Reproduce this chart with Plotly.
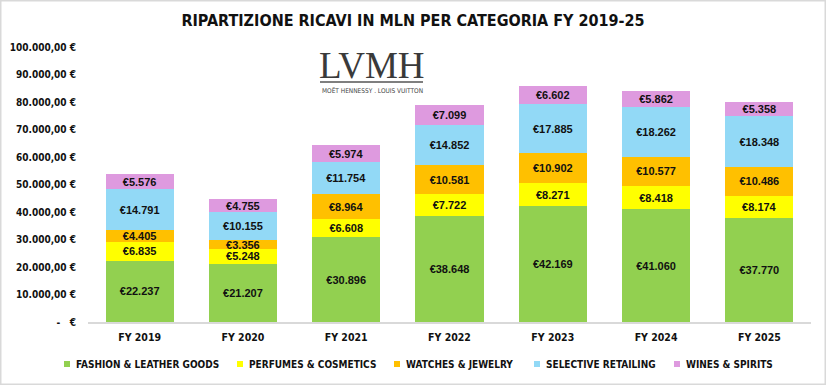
import plotly.graph_objects as go

years = ["FY 2019", "FY 2020", "FY 2021", "FY 2022", "FY 2023", "FY 2024", "FY 2025"]
fashion = [22237, 21207, 30896, 38648, 42169, 41060, 37770]
perfumes = [6835, 5248, 6608, 7722, 8271, 8418, 8174]
watches = [4405, 3356, 8964, 10581, 10902, 10577, 10486]
selective = [14791, 10155, 11754, 14852, 17885, 18262, 18348]
wines = [5576, 4755, 5974, 7099, 6602, 5862, 5358]

series_names = ["FASHION & LEATHER GOODS", "PERFUMES & COSMETICS", "WATCHES & JEWELRY",
                "SELECTIVE RETAILING", "WINES & SPIRITS"]
series_values = [fashion, perfumes, watches, selective, wines]
colors = ["#92D050", "#FFFF00", "#FFC000", "#92D9F6", "#DE9ADF"]

tick_vals = [0, 10000, 20000, 30000, 40000, 50000, 60000, 70000, 80000, 90000, 100000]
tick_text = ["-   €", "10.000,00 €", "20.000,00 €", "30.000,00 €", "40.000,00 €", "50.000,00 €",
             "60.000,00 €", "70.000,00 €", "80.000,00 €", "90.000,00 €", "100.000,00 €"]

def fmt(v):
    return "€" + f"{v:,}".replace(",", ".")

NARROW = "Liberation Sans Narrow, DejaVu Sans Condensed, sans-serif"
SANS = "Liberation Sans, Arial, sans-serif"

# layout geometry (pixels)
W, H = 826, 385
L, R, T, B = 88, 15, 47, 63
PW, PH = W - L - R, H - T - B
def px(x):
    return (x - L) / PW
def py(y):
    return (H - B - y) / PH

fig = go.Figure()
for name, vals, col in zip(series_names, series_values, colors):
    fig.add_trace(go.Bar(
        x=years, y=vals, name=name, marker=dict(color=col, line=dict(width=0)),
        text=[fmt(v) for v in vals], textposition="inside", insidetextanchor="middle",
        textangle=0, constraintext="none", showlegend=False,
        textfont=dict(family=SANS, size=11, color="#111", weight="bold"),
        hoverinfo="skip",
    ))

fig.update_layout(
    barmode="stack", bargap=0.34,
    width=W, height=H,
    margin=dict(l=L, r=R, t=T, b=B, autoexpand=False),
    paper_bgcolor="white", plot_bgcolor="white",
    title=dict(text="RIPARTIZIONE RICAVI IN MLN PER CATEGORIA FY 2019-25", x=0.5, xanchor="center",
               y=0.948, yanchor="middle",
               font=dict(family=NARROW, size=16, color="#111", weight="bold")),
    uniformtext=dict(minsize=8, mode="show"),
    xaxis=dict(showline=True, linecolor="#D9D9D9", linewidth=1.5, ticks="", automargin=False,
               ticklabelstandoff=5,
               tickfont=dict(family=NARROW, size=10.5, color="#111", weight="bold")),
    yaxis=dict(range=[0, 100000], tickvals=tick_vals, ticktext=tick_text, showgrid=False,
               zeroline=False, ticks="", ticklabelstandoff=11, automargin=False,
               tickfont=dict(family=NARROW, size=10, color="#111", weight="bold")),
)

# legend (drawn as squares + labels, single row as in the reference)
legend_sq_x = [64, 237, 394, 534, 674]
legend_y = 364
for name, col, sx in zip(series_names, colors, legend_sq_x):
    fig.add_shape(type="rect", xref="paper", yref="paper", x0=px(sx), x1=px(sx + 6),
                  y0=py(legend_y + 3), y1=py(legend_y - 3), fillcolor=col, line=dict(width=0))
    fig.add_annotation(text=name, xref="paper", yref="paper", x=px(sx + 10), y=py(legend_y),
                       xanchor="left", yanchor="middle", showarrow=False,
                       font=dict(family=NARROW, size=10, color="#111", weight="bold"))

# LVMH logo as text
fig.add_annotation(text="LVMH", xref="paper", yref="paper", x=px(372), y=py(86.5), showarrow=False,
                   borderpad=0, yanchor="bottom",
                   font=dict(family="Liberation Serif, DejaVu Serif, serif", size=37, color="#3A3A3A"))
fig.add_shape(type="line", xref="paper", yref="paper", x0=px(320), x1=px(423), y0=py(82), y1=py(82),
              line=dict(color="#555", width=1.6))
fig.add_annotation(text="MOËT HENNESSY . LOUIS VUITTON", xref="paper", yref="paper", x=px(372), y=py(90.8),
                   showarrow=False, yanchor="middle", borderpad=0,
                   font=dict(family=NARROW, size=6.5, color="#444"))

# outer frame
fig.add_shape(type="rect", xref="paper", yref="paper", x0=px(0.5), x1=px(W - 0.5), y0=py(H - 0.5), y1=py(0.5),
              line=dict(color="#D9D9D9", width=2))

fig.write_html("out.html", config={"displayModeBar": False},
               post_script="document.body.style.margin='0';")
